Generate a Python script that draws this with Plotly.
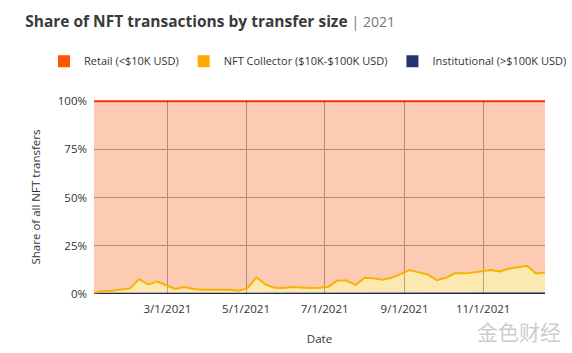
import plotly.graph_objects as go
import pandas as pd

dates = pd.date_range("2021-01-03", periods=51, freq="7D")

institutional = [0.1, 0.1, 0.1, 0.1, 0.1, 0.1, 0.1, 0.1, 0.1, 0.1,
                 0.1, 0.1, 0.1, 0.1, 0.1, 0.3, 0.2, 0.3, 0.3, 0.1,
                 0.1, 0.1, 0.1, 0.1, 0.1, 0.1, 0.1, 0.1, 0.1, 0.1,
                 0.1, 0.1, 0.1, 0.1, 0.3, 0.1, 0.1, 0.1, 0.1, 0.1,
                 0.1, 0.1, 0.3, 0.3, 0.3, 0.2, 0.1, 0.1, 0.1, 0.3,
                 0.3]
collector = [0.6, 1.4, 1.6, 2.1, 2.8, 7.6, 4.9, 6.3, 4.5, 2.5,
             3.5, 2.5, 2.1, 2.1, 1.8, 1.9, 1.5, 2.6, 8.3, 4.9,
             3.1, 3.0, 3.5, 3.1, 3.0, 3.2, 3.7, 6.9, 6.9, 4.5,
             8.3, 8.1, 7.3, 8.3, 10.2, 12.3, 11.1, 10.0, 7.1, 8.3,
             10.6, 10.6, 10.9, 11.7, 12.2, 11.5, 13.1, 13.8, 14.5, 10.4,
             10.9]
retail = [99.3, 98.5, 98.3, 97.8, 97.1, 92.3, 95.0, 93.6, 95.4, 97.4,
          96.4, 97.4, 97.8, 97.8, 98.1, 97.8, 98.3, 97.1, 91.4, 95.0,
          96.8, 96.9, 96.4, 96.8, 96.9, 96.7, 96.2, 93.0, 93.0, 95.4,
          91.6, 91.8, 92.6, 91.6, 89.5, 87.6, 88.8, 89.9, 92.8, 91.6,
          89.3, 89.3, 88.8, 88.0, 87.5, 88.3, 86.8, 86.1, 85.4, 89.3,
          88.8]

series_names = ["Retail (<$10K USD)", "NFT Collector ($10K-$100K USD)", "Institutional (>$100K USD)"]
tick_vals = ["2021-03-01", "2021-05-01", "2021-07-01", "2021-09-01", "2021-11-01"]
tick_text = ["3/1/2021", "5/1/2021", "7/1/2021", "9/1/2021", "11/1/2021"]
y_ticks = [0, 25, 50, 75, 100]
y_text = ["0%", "25%", "50%", "75%", "100%"]

FONT = "Open Sans"
fig = go.Figure()

fig.add_trace(go.Scatter(x=dates, y=institutional, stackgroup="s", mode="lines",
                         line=dict(color="#1b2466", width=2),
                         fillcolor="rgba(120,130,170,0.3)", showlegend=False, hoverinfo="skip"))
fig.add_trace(go.Scatter(x=dates, y=collector, stackgroup="s", mode="lines",
                         line=dict(color="#f6b300", width=2),
                         fillcolor="rgba(247,200,57,0.4)", showlegend=False, hoverinfo="skip"))
fig.add_trace(go.Scatter(x=dates, y=retail, stackgroup="s", mode="lines",
                         line=dict(color="#ff2a00", width=2),
                         fillcolor="rgba(250,125,68,0.4)", showlegend=False, hoverinfo="skip"))

legend_colors = ["#ff5400", "#ffaa00", "#243572"]
for name, col in zip(series_names, legend_colors):
    fig.add_trace(go.Scatter(x=[None], y=[None], mode="markers", name=name,
                             marker=dict(symbol="square", size=12, color=col)))

fig.update_layout(
    width=572, height=353,
    margin=dict(l=94, r=27, t=100, b=59),
    paper_bgcolor="white", plot_bgcolor="white",
    font=dict(family=FONT, color="#333333", size=11),
    title=dict(text="<b>Share of NFT transactions by transfer size</b> <span style='color:#777777;font-size:14px'>| 2021</span>",
               x=0.044, xanchor="left", y=0.94, yanchor="middle",
               font=dict(family=FONT, size=15.5, color="#3a3a3a")),
    legend=dict(orientation="h", x=-0.1, xanchor="left", y=1.2, yanchor="middle",
                font=dict(family=FONT, size=11, color="#333333"),
                itemwidth=30, traceorder="normal", tracegroupgap=0),
    showlegend=True,
)
fig.update_xaxes(
    range=[dates[0], dates[-1]], tickvals=tick_vals, ticktext=tick_text, automargin=False,
    showgrid=True, gridcolor="#879693", gridwidth=1, showline=False, zeroline=False,
    ticks="", ticklabelstandoff=6, tickfont=dict(family=FONT, size=11.5, color="#333333"),
    title=dict(text="Date", font=dict(family=FONT, size=11.5, color="#333333"), standoff=20),
)
fig.update_yaxes(
    range=[0, 100.6], tickvals=y_ticks, ticktext=y_text, automargin=False,
    showgrid=True, gridcolor="#879693", gridwidth=1, showline=False, zeroline=False,
    ticks="", ticklabelstandoff=6, tickfont=dict(family=FONT, size=11.5, color="#333333"),
    title=dict(text="Share of all NFT transfers", font=dict(family=FONT, size=11.5, color="#333333"), standoff=14),
)

fig.add_annotation(text="金色财经", xref="paper", yref="paper", x=1.04, y=-0.19,
                   xanchor="right", yanchor="middle", showarrow=False,
                   font=dict(family="Noto Sans CJK SC", size=21, color="rgba(170,170,170,0.6)"))

fig.write_html("out.html")
